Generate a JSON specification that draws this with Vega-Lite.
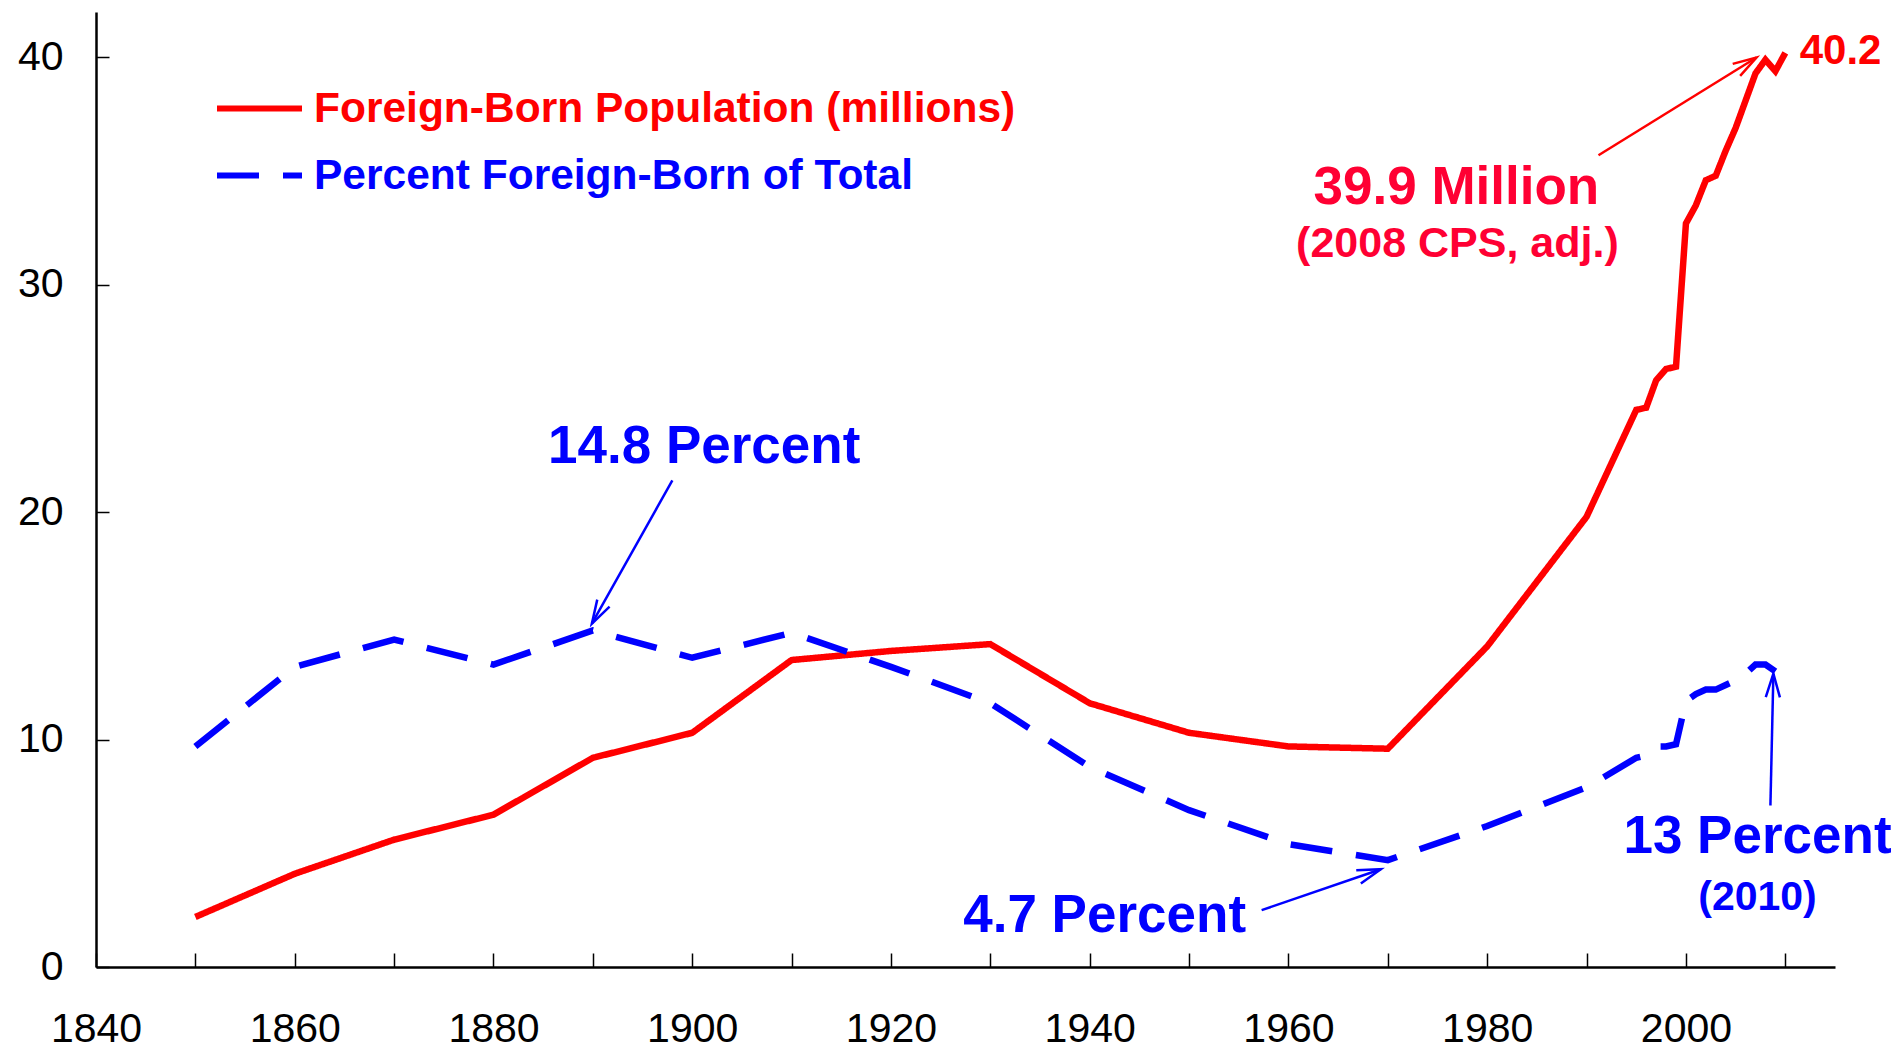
{
  "$schema": "https://vega.github.io/schema/vega-lite/v6.json",
  "width": 1739,
  "height": 955,
  "autosize": {"type": "none"},
  "padding": {"left": 96, "top": 12, "right": 68, "bottom": 82},
  "background": "white",
  "config": {"view": {"stroke": null}, "font": "Liberation Sans"},
  "datasets": {
    "series": [
      {"series": "Foreign-Born Population (millions)", "year": 1850, "value": 2.2},
      {"series": "Foreign-Born Population (millions)", "year": 1860, "value": 4.1},
      {"series": "Foreign-Born Population (millions)", "year": 1870, "value": 5.6},
      {"series": "Foreign-Born Population (millions)", "year": 1880, "value": 6.7},
      {"series": "Foreign-Born Population (millions)", "year": 1890, "value": 9.2},
      {"series": "Foreign-Born Population (millions)", "year": 1900, "value": 10.3},
      {"series": "Foreign-Born Population (millions)", "year": 1910, "value": 13.5},
      {"series": "Foreign-Born Population (millions)", "year": 1920, "value": 13.9},
      {"series": "Foreign-Born Population (millions)", "year": 1930, "value": 14.2},
      {"series": "Foreign-Born Population (millions)", "year": 1940, "value": 11.6},
      {"series": "Foreign-Born Population (millions)", "year": 1950, "value": 10.3},
      {"series": "Foreign-Born Population (millions)", "year": 1960, "value": 9.7},
      {"series": "Foreign-Born Population (millions)", "year": 1970, "value": 9.6},
      {"series": "Foreign-Born Population (millions)", "year": 1980, "value": 14.1},
      {"series": "Foreign-Born Population (millions)", "year": 1990, "value": 19.8},
      {"series": "Foreign-Born Population (millions)", "year": 1995, "value": 24.5},
      {"series": "Foreign-Born Population (millions)", "year": 1996, "value": 24.6},
      {"series": "Foreign-Born Population (millions)", "year": 1997, "value": 25.8},
      {"series": "Foreign-Born Population (millions)", "year": 1998, "value": 26.3},
      {"series": "Foreign-Born Population (millions)", "year": 1999, "value": 26.4},
      {"series": "Foreign-Born Population (millions)", "year": 2000, "value": 32.7},
      {"series": "Foreign-Born Population (millions)", "year": 2001, "value": 33.5},
      {"series": "Foreign-Born Population (millions)", "year": 2002, "value": 34.6},
      {"series": "Foreign-Born Population (millions)", "year": 2003, "value": 34.8},
      {"series": "Foreign-Born Population (millions)", "year": 2004, "value": 35.9},
      {"series": "Foreign-Born Population (millions)", "year": 2005, "value": 36.9},
      {"series": "Foreign-Born Population (millions)", "year": 2006, "value": 38.1},
      {"series": "Foreign-Born Population (millions)", "year": 2007, "value": 39.3},
      {"series": "Foreign-Born Population (millions)", "year": 2008, "value": 39.9},
      {"series": "Foreign-Born Population (millions)", "year": 2009, "value": 39.4},
      {"series": "Foreign-Born Population (millions)", "year": 2010, "value": 40.2},
      {"series": "Percent Foreign-Born of Total", "year": 1850, "value": 9.7},
      {"series": "Percent Foreign-Born of Total", "year": 1860, "value": 13.2},
      {"series": "Percent Foreign-Born of Total", "year": 1870, "value": 14.4},
      {"series": "Percent Foreign-Born of Total", "year": 1880, "value": 13.3},
      {"series": "Percent Foreign-Born of Total", "year": 1890, "value": 14.8},
      {"series": "Percent Foreign-Born of Total", "year": 1900, "value": 13.6},
      {"series": "Percent Foreign-Born of Total", "year": 1910, "value": 14.7},
      {"series": "Percent Foreign-Born of Total", "year": 1920, "value": 13.2},
      {"series": "Percent Foreign-Born of Total", "year": 1930, "value": 11.6},
      {"series": "Percent Foreign-Born of Total", "year": 1940, "value": 8.8},
      {"series": "Percent Foreign-Born of Total", "year": 1950, "value": 6.9},
      {"series": "Percent Foreign-Born of Total", "year": 1960, "value": 5.4},
      {"series": "Percent Foreign-Born of Total", "year": 1970, "value": 4.7},
      {"series": "Percent Foreign-Born of Total", "year": 1980, "value": 6.2},
      {"series": "Percent Foreign-Born of Total", "year": 1990, "value": 7.9},
      {"series": "Percent Foreign-Born of Total", "year": 1995, "value": 9.2},
      {"series": "Percent Foreign-Born of Total", "year": 1996, "value": 9.3},
      {"series": "Percent Foreign-Born of Total", "year": 1997, "value": 9.7},
      {"series": "Percent Foreign-Born of Total", "year": 1998, "value": 9.7},
      {"series": "Percent Foreign-Born of Total", "year": 1999, "value": 9.8},
      {"series": "Percent Foreign-Born of Total", "year": 2000, "value": 11.7},
      {"series": "Percent Foreign-Born of Total", "year": 2001, "value": 12.0},
      {"series": "Percent Foreign-Born of Total", "year": 2002, "value": 12.2},
      {"series": "Percent Foreign-Born of Total", "year": 2003, "value": 12.2},
      {"series": "Percent Foreign-Born of Total", "year": 2004, "value": 12.4},
      {"series": "Percent Foreign-Born of Total", "year": 2005, "value": 12.6},
      {"series": "Percent Foreign-Born of Total", "year": 2006, "value": 12.9},
      {"series": "Percent Foreign-Born of Total", "year": 2007, "value": 13.3},
      {"series": "Percent Foreign-Born of Total", "year": 2008, "value": 13.3},
      {"series": "Percent Foreign-Born of Total", "year": 2009, "value": 13.0}
    ],
    "arrows": [
      {"series": "Percent Foreign-Born of Total", "x1": 1898.0, "y1": 21.4, "x2": 1889.9, "y2": 15.1},
      {"series": "Foreign-Born Population (millions)", "x1": 1991.2, "y1": 35.7, "x2": 2007.1, "y2": 40.0},
      {"series": "Percent Foreign-Born of Total", "x1": 1957.3, "y1": 2.5, "x2": 1969.3, "y2": 4.3},
      {"series": "Percent Foreign-Born of Total", "x1": 2008.5, "y1": 7.1, "x2": 2008.8, "y2": 12.9}
    ],
    "notes": [
      {"role": "pct", "year": 1901.2, "value": 22.16, "text": "14.8 Percent"},
      {"role": "pct", "year": 1941.5, "value": 1.54, "text": "4.7 Percent"},
      {"role": "pct", "year": 2007.2, "value": 5.0, "text": "13 Percent"},
      {"role": "pctnote", "year": 2007.2, "value": 2.5, "text": "(2010)"},
      {"role": "mil", "year": 1976.9, "value": 33.55, "text": "39.9 Million"},
      {"role": "milnote", "year": 1977.0, "value": 31.22, "text": "(2008 CPS, adj.)"},
      {"role": "end", "year": 2011.45, "value": 39.7, "text": "40.2"}
    ]
  },
  "layer": [
    {
      "data": {"name": "series"},
      "mark": {"type": "line", "strokeWidth": 6.5},
      "encoding": {
        "x": {
          "field": "year", "type": "quantitative",
          "scale": {"domain": [1840, 2015], "nice": false, "zero": false},
          "axis": {
            "title": null, "grid": false,
            "values": [1840, 1850, 1860, 1870, 1880, 1890, 1900, 1910, 1920, 1930, 1940, 1950, 1960, 1970, 1980, 1990, 2000, 2010],
            "format": "d",
            "labelExpr": "datum.value % 20 === 0 ? datum.label : ''",
            "domainColor": "#000000", "domainWidth": 2.5,
            "tickColor": "#000000", "tickWidth": 1.5, "tickSize": -14,
            "labelPadding": 56, "labelFontSize": 41, "labelFont": "Liberation Sans",
            "labelColor": "#000000", "labelFlush": false, "labelOverlap": false, "labelBound": false
          }
        },
        "y": {
          "field": "value", "type": "quantitative",
          "scale": {"domain": [0, 42], "nice": false},
          "axis": {
            "title": null, "grid": false,
            "values": [0, 10, 20, 30, 40],
            "format": "d",
            "domainColor": "#000000", "domainWidth": 2.5,
            "tickColor": "#000000", "tickWidth": 1.5, "tickSize": -13,
            "labelPadding": 46, "labelFontSize": 41, "labelFont": "Liberation Sans",
            "labelColor": "#000000", "labelOverlap": false, "labelBound": false
          }
        },
        "color": {
          "field": "series", "type": "nominal",
          "scale": {"domain": ["Foreign-Born Population (millions)", "Percent Foreign-Born of Total"], "range": ["#ff0000", "#0000ff"]},
          "legend": {
            "title": null, "orient": "none", "legendX": 118, "legendY": 51,
            "symbolType": "stroke", "symbolSize": 7225, "symbolStrokeWidth": 6,
            "labelFontSize": 42.5, "labelFont": "Liberation Sans", "labelFontWeight": "bold",
            "labelOffset": 9, "rowPadding": -6, "padding": 0, "labelLimit": 1000,
            "encode": {"labels": {"update": {"fill": {"signal": "datum.label == 'Percent Foreign-Born of Total' ? '#0000ff' : '#ff0000'"}}}}
          }
        },
        "strokeDash": {
          "field": "series", "type": "nominal",
          "scale": {"domain": ["Foreign-Born Population (millions)", "Percent Foreign-Born of Total"], "range": [[1, 0], [42, 24]]},
          "legend": {
            "title": null, "orient": "none", "legendX": 118, "legendY": 51,
            "symbolType": "stroke", "symbolSize": 7225, "symbolStrokeWidth": 6,
            "labelFontSize": 42.5, "labelFont": "Liberation Sans", "labelFontWeight": "bold",
            "labelOffset": 9, "rowPadding": -6, "padding": 0, "labelLimit": 1000,
            "encode": {"labels": {"update": {"fill": {"signal": "datum.label == 'Percent Foreign-Born of Total' ? '#0000ff' : '#ff0000'"}}}}
          }
        }
      }
    },
    {
      "data": {"name": "arrows"},
      "mark": {"type": "rule", "strokeWidth": 2.5},
      "encoding": {
        "x": {"field": "x1", "type": "quantitative"},
        "y": {"field": "y1", "type": "quantitative"},
        "x2": {"field": "x2"},
        "y2": {"field": "y2"},
        "color": {"field": "series", "type": "nominal", "legend": null}
      }
    },
    {
      "data": {"name": "arrows"},
      "mark": {
        "type": "point", "shape": "M-1,-0.3L0,0L-1,0.3", "filled": false, "opacity": 1,
        "size": 2228, "strokeWidth": 2.5,
        "angle": {"expr": "atan2(scale('y', datum.y2) - scale('y', datum.y1), scale('x', datum.x2) - scale('x', datum.x1)) * 180 / PI"}
      },
      "encoding": {
        "x": {"field": "x2", "type": "quantitative"},
        "y": {"field": "y2", "type": "quantitative"},
        "color": {"field": "series", "type": "nominal", "legend": null}
      }
    },
    {
      "data": {"name": "notes"},
      "transform": [{"filter": "datum.role == 'pct'"}],
      "mark": {"type": "text", "align": "center", "baseline": "alphabetic", "font": "Liberation Sans", "fontWeight": "bold", "fontSize": 53, "color": "#0000ff"},
      "encoding": {
        "x": {"field": "year", "type": "quantitative"},
        "y": {"field": "value", "type": "quantitative"},
        "text": {"field": "text"}
      }
    },
    {
      "data": {"name": "notes"},
      "transform": [{"filter": "datum.role == 'pctnote'"}],
      "mark": {"type": "text", "align": "center", "baseline": "alphabetic", "font": "Liberation Sans", "fontWeight": "bold", "fontSize": 41, "color": "#0000ff"},
      "encoding": {
        "x": {"field": "year", "type": "quantitative"},
        "y": {"field": "value", "type": "quantitative"},
        "text": {"field": "text"}
      }
    },
    {
      "data": {"name": "notes"},
      "transform": [{"filter": "datum.role == 'mil'"}],
      "mark": {"type": "text", "align": "center", "baseline": "alphabetic", "font": "Liberation Sans", "fontWeight": "bold", "fontSize": 53, "color": "#ff0033"},
      "encoding": {
        "x": {"field": "year", "type": "quantitative"},
        "y": {"field": "value", "type": "quantitative"},
        "text": {"field": "text"}
      }
    },
    {
      "data": {"name": "notes"},
      "transform": [{"filter": "datum.role == 'milnote'"}],
      "mark": {"type": "text", "align": "center", "baseline": "alphabetic", "font": "Liberation Sans", "fontWeight": "bold", "fontSize": 43, "color": "#ff0033"},
      "encoding": {
        "x": {"field": "year", "type": "quantitative"},
        "y": {"field": "value", "type": "quantitative"},
        "text": {"field": "text"}
      }
    },
    {
      "data": {"name": "notes"},
      "transform": [{"filter": "datum.role == 'end'"}],
      "mark": {"type": "text", "align": "left", "baseline": "alphabetic", "font": "Liberation Sans", "fontWeight": "bold", "fontSize": 42, "color": "#ff0000"},
      "encoding": {
        "x": {"field": "year", "type": "quantitative"},
        "y": {"field": "value", "type": "quantitative"},
        "text": {"field": "text"}
      }
    }
  ]
}
